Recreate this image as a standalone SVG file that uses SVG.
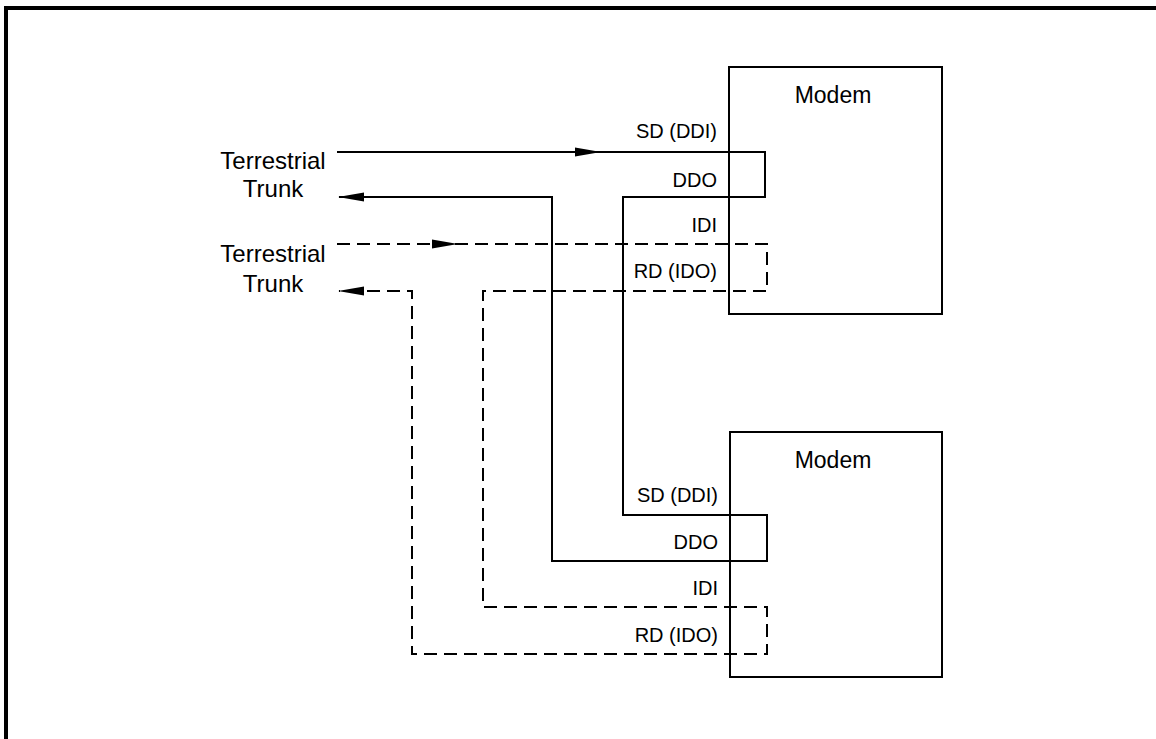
<svg xmlns="http://www.w3.org/2000/svg" width="1156" height="739" viewBox="0 0 1156 739">
<style>
.frame{fill:none;stroke:#000;stroke-width:4}
.box{fill:none;stroke:#000;stroke-width:2}
.wire{fill:none;stroke:#000;stroke-width:2}
.dash{stroke-dasharray:13 7}
.lbl{font-family:"Liberation Sans",Arial,sans-serif;font-size:20px;fill:#000}
.big{font-family:"Liberation Sans",Arial,sans-serif;font-size:23px;fill:#000}
.trk{font-family:"Liberation Sans",Arial,sans-serif;font-size:24px;fill:#000}
</style>
<defs>
<marker id="arr" markerUnits="userSpaceOnUse" markerWidth="26" markerHeight="10" refX="25" refY="5" orient="auto">
<path d="M0,0.5 L26,5 L0,9.5 z" fill="#000"/>
</marker>
</defs>
<rect width="1156" height="739" fill="#fff"/>
<path class="frame" d="M6,739 V8 H1156"/>
<g id="trunk1">
<text class="trk" x="273" y="169" text-anchor="middle">Terrestrial</text>
<text class="trk" x="273" y="197" text-anchor="middle">Trunk</text>
</g>
<g id="trunk2">
<text class="trk" x="273" y="262" text-anchor="middle">Terrestrial</text>
<text class="trk" x="273" y="292" text-anchor="middle">Trunk</text>
</g>
<g id="modem1">
<rect class="box" x="729" y="67" width="213" height="247"/>
<text class="big" x="833" y="103" text-anchor="middle">Modem</text>
<text class="lbl" x="717" y="138" text-anchor="end">SD (DDI)</text>
<text class="lbl" x="717" y="187" text-anchor="end">DDO</text>
<text class="lbl" x="717" y="232" text-anchor="end">IDI</text>
<text class="lbl" x="717" y="278" text-anchor="end">RD (IDO)</text>
</g>
<g id="modem2">
<rect class="box" x="730" y="432" width="212" height="245"/>
<text class="big" x="833" y="468" text-anchor="middle">Modem</text>
<text class="lbl" x="718" y="502" text-anchor="end">SD (DDI)</text>
<text class="lbl" x="718" y="549" text-anchor="end">DDO</text>
<text class="lbl" x="718" y="595" text-anchor="end">IDI</text>
<text class="lbl" x="718" y="642" text-anchor="end">RD (IDO)</text>
</g>
<g id="connectors">
<path class="wire" d="M337,152 H600" marker-end="url(#arr)"/>
<path class="wire" d="M598,152 H765 V197 H623 V515 H767 V561 H552 V197 H339" marker-end="url(#arr)"/>
<path class="wire dash" d="M337,244 H457" marker-end="url(#arr)"/>
<path class="wire dash" d="M455,244 H767 V291 H483 V607 H767 V654 H412 V291 H339" marker-end="url(#arr)"/>
</g>
</svg>
